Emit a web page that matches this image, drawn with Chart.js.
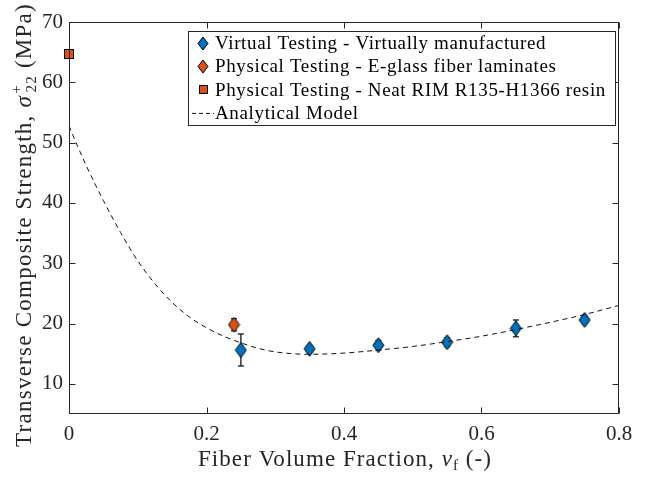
<!DOCTYPE html>
<html>
<head>
<meta charset="utf-8">
<script src="https://cdn.jsdelivr.net/npm/chart.js@4.4.0/dist/chart.umd.min.js"></script>
<style>
  html, body { margin: 0; padding: 0; background: #fff; }
  #wrap { width: 660px; height: 477px; }
</style>
</head>
<body>
<div id="wrap"><canvas id="myChart" width="660" height="477"></canvas></div>
<script>
// data
const virtualX = [0.25, 0.35, 0.45, 0.55, 0.65, 0.75]
const virtualY = [15.6, 15.8, 16.4, 16.9, 19.2, 20.6]
const virtualErr = [2.65, 0.5, 0.8, 0.7, 1.4, 0.6]

const glassX = [0.24]
const glassY = [19.8]
const glassErr = [1.0]

const resinX = [0]
const resinY = [64.7]
const resinErr = [0.5]

const modelX = [0, 0.0125, 0.025, 0.05, 0.075, 0.1, 0.125, 0.15, 0.175, 0.2, 0.225, 0.25, 0.275, 0.3, 0.35, 0.4, 0.45, 0.5, 0.55, 0.6, 0.65, 0.7, 0.75, 0.8]
const modelY = [52.8, 49.4, 46.2, 40.4, 35.1, 30.4, 26.6, 23.5, 21.1, 19.3, 17.9, 16.8, 15.9, 15.3, 14.9, 15.1, 15.6, 16.2, 17.0, 17.9, 19.0, 20.2, 21.5, 23.0]

const xTicks = [0, 0.2, 0.4, 0.6, 0.8]
const yTicks = [10, 20, 30, 40, 50, 60, 70]

const labels = [
  'Virtual Testing - Virtually manufactured',
  'Physical Testing - E-glass fiber laminates',
  'Physical Testing - Neat RIM R135-H1366 resin',
  'Analytical Model'
]

const BLUE = '#0072BD'
const ORANGE = '#D95319'
const INK = '#262626'
const SERIF = '"Liberation Serif", "DejaVu Serif", serif'

function pairs(xs, ys){
  return xs.map(function(x, i){ return {x: x, y: ys[i]} })
}

// marker images (MATLAB style diamond is taller than wide)
function diamond(color, w, h){
  const c = document.createElement('canvas')
  c.width = w + 2; c.height = h + 2
  const g = c.getContext('2d')
  g.beginPath()
  g.moveTo(c.width/2, 1)
  g.lineTo(c.width - 1, c.height/2)
  g.lineTo(c.width/2, c.height - 1)
  g.lineTo(1, c.height/2)
  g.closePath()
  g.fillStyle = color; g.fill()
  g.strokeStyle = '#000'; g.lineWidth = 1; g.stroke()
  return c
}
function square(color, s){
  const c = document.createElement('canvas')
  c.width = s + 2; c.height = s + 2
  const g = c.getContext('2d')
  g.fillStyle = color
  g.fillRect(1, 1, s, s)
  g.strokeStyle = '#000'; g.lineWidth = 1
  g.strokeRect(1.5, 1.5, s - 1, s - 1)
  return c
}

const blueDiamond = diamond(BLUE, 11, 15)
const orangeDiamond = diamond(ORANGE, 11, 15)
const orangeSquare = square(ORANGE, 10)

//Data Block
const data = {
  datasets: [{
    label: labels[3],
    type: 'line',
    data: pairs(modelX, modelY),
    borderColor: '#111',
    borderWidth: 1,
    borderDash: [5, 4],
    pointRadius: 0,
    cubicInterpolationMode: 'monotone',
    order: 0
  }, {
    label: labels[0],
    type: 'scatter',
    data: pairs(virtualX, virtualY),
    errors: virtualErr,
    pointStyle: blueDiamond,
    legendMarker: diamond(BLUE, 10, 13),
    clip: false,
    order: 1
  }, {
    label: labels[1],
    type: 'scatter',
    data: pairs(glassX, glassY),
    errors: glassErr,
    pointStyle: orangeDiamond,
    legendMarker: diamond(ORANGE, 10, 13),
    clip: false,
    order: 2
  }, {
    label: labels[2],
    type: 'scatter',
    data: pairs(resinX, resinY),
    errors: resinErr,
    pointStyle: orangeSquare,
    legendMarker: square(ORANGE, 9),
    clip: false,
    order: 3
  }]
}

// error bars under the markers
const errorBars = {
  id: 'errorBars',
  beforeDatasetsDraw(chart){
    const ctx = chart.ctx
    const xs = chart.scales.x, ys = chart.scales.y
    ctx.save()
    ctx.strokeStyle = '#333'
    ctx.lineWidth = 1.5
    chart.data.datasets.forEach(function(ds){
      if (!ds.errors) return
      ds.data.forEach(function(p, i){
        const px = xs.getPixelForValue(p.x)
        const top = ys.getPixelForValue(p.y + ds.errors[i])
        const bot = ys.getPixelForValue(p.y - ds.errors[i])
        ctx.beginPath()
        ctx.moveTo(px, top); ctx.lineTo(px, bot)
        ctx.moveTo(px - 3, top); ctx.lineTo(px + 3, top)
        ctx.moveTo(px - 3, bot); ctx.lineTo(px + 3, bot)
        ctx.stroke()
      })
    })
    ctx.restore()
  }
}

// draw a run of text pieces, spaced out to a target width (LaTeX fonts run wider)
function drawRun(ctx, parts, x0, y0, target, centered){
  ctx.letterSpacing = '0px'
  let w = 0, n = 0
  parts.forEach(function(p){ ctx.font = p.f; w += (p.adv != null ? p.adv : ctx.measureText(p.t).width); n += p.t.length })
  const ls = Math.max(0, (target - w) / n)
  ctx.letterSpacing = ls.toFixed(2) + 'px'
  let total = 0
  parts.forEach(function(p){ ctx.font = p.f; total += (p.adv != null ? p.adv + ls * p.t.length : ctx.measureText(p.t).width) })
  let x = centered ? x0 - total/2 : x0
  parts.forEach(function(p){
    ctx.font = p.f
    ctx.fillText(p.t, x + (p.ox || 0), y0 + (p.dy || 0))
    x += (p.adv != null ? p.adv + ls * p.t.length : ctx.measureText(p.t).width)
  })
  ctx.letterSpacing = '0px'
}

// box, inward ticks, axis titles, legend
const matlabAxes = {
  id: 'matlabAxes',
  afterDraw(chart){
    const ctx = chart.ctx
    const a = chart.chartArea
    const xs = chart.scales.x, ys = chart.scales.y
    ctx.save()
    ctx.strokeStyle = INK
    ctx.lineWidth = 1
    const L = Math.round(a.left) + 0.5, R = Math.round(a.right) - 0.5
    const T = Math.round(a.top) + 0.5, B = Math.round(a.bottom) - 0.5
    ctx.strokeRect(L, T, R - L, B - T)
    ctx.beginPath()
    xTicks.forEach(function(v){
      const px = Math.round(xs.getPixelForValue(v)) + 0.5
      ctx.moveTo(px, B); ctx.lineTo(px, B - 6)
      ctx.moveTo(px, T); ctx.lineTo(px, T + 6)
    })
    yTicks.forEach(function(v){
      const py = Math.round(ys.getPixelForValue(v)) + 0.5
      ctx.moveTo(L, py); ctx.lineTo(L + 6, py)
      ctx.moveTo(R, py); ctx.lineTo(R - 6, py)
    })
    ctx.stroke()

    ctx.fillStyle = INK
    ctx.textBaseline = 'alphabetic'
    const fs = 23
    const F = fs + 'px ' + SERIF, FI = 'italic ' + fs + 'px ' + SERIF, FS = '15px ' + SERIF

    // x title
    drawRun(ctx, [
      {t: 'Fiber Volume Fraction, ', f: F},
      {t: 'v', f: FI},
      {t: 'f', f: FS, dy: 4},
      {t: ' (-)', f: F}
    ], (a.left + a.right)/2 + 1, 466, 294, true)

    // y title (rotated)
    ctx.save()
    ctx.translate(31, 225)
    ctx.rotate(-Math.PI/2)
    ctx.font = FS
    const wsub = ctx.measureText('22').width + 1
    drawRun(ctx, [
      {t: 'Transverse Composite Strength, ', f: F},
      {t: 'σ', f: FI},
      {t: '+', f: FS, dy: -10, ox: 1, adv: 0},
      {t: '22', f: FS, dy: 5, ox: 1, adv: wsub},
      {t: ' (MPa)', f: F}
    ], 0, 0, 444, true)
    ctx.restore()

    // legend
    const box = {x: 188.5, y: 31.5, w: 427, h: 94}
    ctx.fillStyle = '#fff'
    ctx.fillRect(box.x, box.y, box.w, box.h)
    ctx.strokeStyle = INK
    ctx.strokeRect(box.x, box.y, box.w, box.h)
    const LF = '19px ' + SERIF
    ctx.font = LF
    const ls = (391 - ctx.measureText(labels[2]).width) / labels[2].length
    ctx.letterSpacing = Math.max(0, ls).toFixed(2) + 'px'
    ctx.fillStyle = '#000'
    ctx.textBaseline = 'middle'
    const order = [1, 2, 3, 0]
    order.forEach(function(di, row){
      const ds = chart.data.datasets[di]
      const ry = 43 + row * 23.3
      if (ds.legendMarker) {
        const m = ds.legendMarker
        ctx.drawImage(m, Math.round(203 - m.width/2), Math.round(ry - m.height/2))
      } else {
        ctx.save()
        ctx.strokeStyle = '#111'
        ctx.setLineDash([4, 3])
        ctx.beginPath()
        ctx.moveTo(192, ry + 0.5); ctx.lineTo(214, ry + 0.5)
        ctx.stroke()
        ctx.restore()
      }
      ctx.fillText(ds.label, 215, ry + 1)
    })
    ctx.letterSpacing = '0px'
    ctx.restore()
  }
}

//Config Block
const config = {
  data,
  options: {
    responsive: false,
    animation: false,
    events: [],
    layout: { padding: { left: 0, top: 22, right: 41, bottom: 0 } },
    plugins: {
      legend: { display: false },
      tooltip: { enabled: false }
    },
    scales: {
      x: {
        type: 'linear',
        min: 0, max: 0.8,
        afterBuildTicks: function(scale){ scale.ticks = xTicks.map(function(v){ return {value: v} }) },
        afterFit: function(scale){ scale.height = 63 },
        grid: { display: false, drawTicks: false },
        border: { display: false },
        ticks: {
          padding: 8,
          color: INK,
          font: { family: SERIF, size: 21 },
          maxRotation: 0,
          callback: function(v){ return String(v) }
        }
      },
      y: {
        type: 'linear',
        min: 5, max: 70,
        afterBuildTicks: function(scale){ scale.ticks = yTicks.map(function(v){ return {value: v} }) },
        afterFit: function(scale){ scale.width = 69 },
        grid: { display: false, drawTicks: false },
        border: { display: false },
        ticks: {
          padding: 6,
          color: INK,
          font: { family: SERIF, size: 21 },
          callback: function(v){ return String(v) }
        }
      }
    }
  },
  plugins: [errorBars, matlabAxes]
}

//Render init block
const myChart = new Chart(
  document.getElementById('myChart'),
  config
)
</script>
</body>
</html>
